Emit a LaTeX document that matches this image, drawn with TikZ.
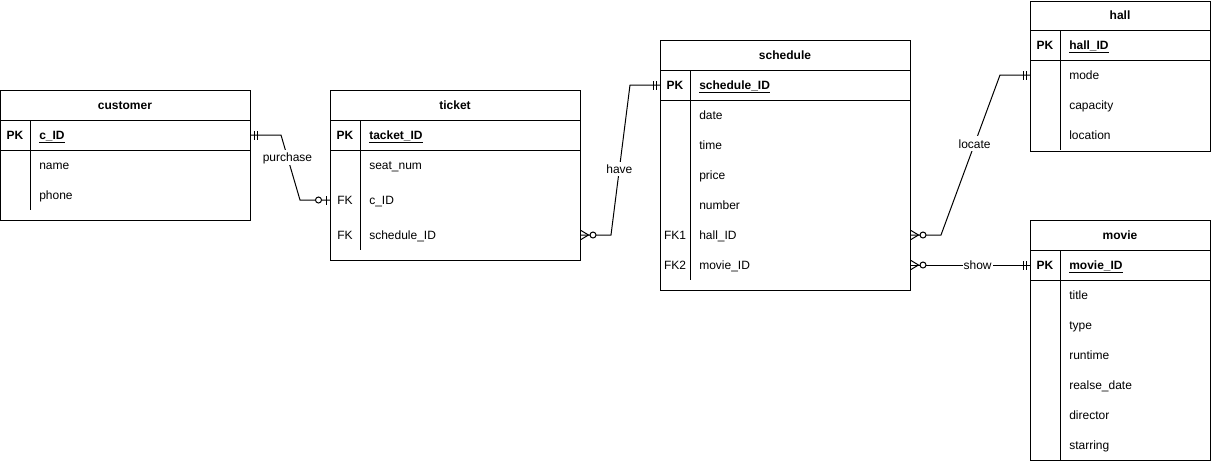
\documentclass[tikz,border=0pt]{standalone}
\usepackage{fontspec}
\setmainfont{Liberation Sans}
\usetikzlibrary{calc}

\tikzset{
  tbl/.style={draw, anchor=north west, inner sep=0pt, line width=0.75pt},
  txt/.style={inner sep=0.75pt, text height=8pt, text depth=1.6pt},
  ttl/.style={txt, font=\fontsize{9}{11}\selectfont\bfseries},
  key/.style={txt},
  fld/.style={txt, anchor=west},
  bld/.style={font=\fontsize{9}{11}\selectfont\bfseries},
  rel/.style={line width=0.75pt},
  lbl/.style={txt, fill=white},
  mand one/.pic={\draw[rel] (3.5,-4.5) -- (3.5,4.5) (6.5,-4.5) -- (6.5,4.5);},
  zero one/.pic={\draw[rel] (4,-4.5) -- (4,4.5);
    \draw[rel, fill=white] (11.5,0) circle[radius=3];},
  zero many/.pic={\draw[rel] (0,-4.5) -- (7.5,0) -- (0,4.5);
    \draw[rel, fill=white] (12,0) circle[radius=3];}
}

\begin{document}
\begin{tikzpicture}[x=0.75pt,y=0.75pt,yscale=-1,xscale=1,
  every node/.append style={font=\fontsize{9}{11}\selectfont}]
\useasboundingbox (0,0) rectangle (1211,462);

%Table: customer
    \node [tbl, minimum width=187.5pt, minimum height=97.5pt] (customer) at (0,90) {};
    \draw [rel] (0,120) -- (250,120) ;
    \draw [rel] (0,150) -- (250,150) ;
    \draw [rel] (30,120) -- (30,210) ;
    \node [ttl] (customer-title) at (125,105) {customer};
    \node [key, bld] (customer-pk) at (15,135) {PK};
    \node [fld, bld] (customer-id) at (38,135) {\underline{c\_ID}};
    \node [fld] (customer-name) at (38,165) {name};
    \node [fld] (customer-phone) at (38,195) {phone};

%Table: ticket
    \node [tbl, minimum width=187.5pt, minimum height=127.5pt] (ticket) at (330,90) {};
    \draw [rel] (330,120) -- (580,120) ;
    \draw [rel] (330,150) -- (580,150) ;
    \draw [rel] (360,120) -- (360,250) ;
    \node [ttl] (ticket-title) at (455,105) {ticket};
    \node [key, bld] (ticket-pk) at (345,135) {PK};
    \node [fld, bld] (ticket-id) at (368,135) {\underline{tacket\_ID}};
    \node [fld] (ticket-seat) at (368,165) {seat\_num};
    \node [key] (ticket-fk1) at (345,200) {FK};
    \node [fld] (ticket-cid) at (368,200) {c\_ID};
    \node [key] (ticket-fk2) at (345,235) {FK};
    \node [fld] (ticket-sid) at (368,235) {schedule\_ID};

%Table: schedule
    \node [tbl, minimum width=187.5pt, minimum height=187.5pt] (schedule) at (660,40) {};
    \draw [rel] (660,70) -- (910,70) ;
    \draw [rel] (660,100) -- (910,100) ;
    \draw [rel] (690,70) -- (690,280) ;
    \node [ttl] (schedule-title) at (785,55) {schedule};
    \node [key, bld] (schedule-pk) at (675,85) {PK};
    \node [fld, bld] (schedule-id) at (698,85) {\underline{schedule\_ID}};
    \node [fld] (schedule-date) at (698,115) {date};
    \node [fld] (schedule-time) at (698,145) {time};
    \node [fld] (schedule-price) at (698,175) {price};
    \node [fld] (schedule-number) at (698,205) {number};
    \node [key] (schedule-fk1) at (675,235) {FK1};
    \node [fld] (schedule-hid) at (698,235) {hall\_ID};
    \node [key] (schedule-fk2) at (675,265) {FK2};
    \node [fld] (schedule-mid) at (698,265) {movie\_ID};

%Table: hall
    \node [tbl, minimum width=135pt, minimum height=112.5pt] (hall) at (1030,0.5) {};
    \draw [rel] (1030,30) -- (1210,30) ;
    \draw [rel] (1030,60) -- (1210,60) ;
    \draw [rel] (1060,30) -- (1060,150) ;
    \node [ttl] (hall-title) at (1120,15) {hall};
    \node [key, bld] (hall-pk) at (1045,45) {PK};
    \node [fld, bld] (hall-id) at (1068,45) {\underline{hall\_ID}};
    \node [fld] (hall-mode) at (1068,75) {mode};
    \node [fld] (hall-capacity) at (1068,105) {capacity};
    \node [fld] (hall-location) at (1068,135) {location};

%Table: movie
    \node [tbl, minimum width=135pt, minimum height=180pt] (movie) at (1030,220) {};
    \draw [rel] (1030,250) -- (1210,250) ;
    \draw [rel] (1030,280) -- (1210,280) ;
    \draw [rel] (1060,250) -- (1060,460) ;
    \node [ttl] (movie-title) at (1120,235) {movie};
    \node [key, bld] (movie-pk) at (1045,265) {PK};
    \node [fld, bld] (movie-id) at (1068,265) {\underline{movie\_ID}};
    \node [fld] (movie-title2) at (1068,295) {title};
    \node [fld] (movie-type) at (1068,325) {type};
    \node [fld] (movie-runtime) at (1068,355) {runtime};
    \node [fld] (movie-date) at (1068,385) {realse\_date};
    \node [fld] (movie-director) at (1068,415) {director};
    \node [fld] (movie-starring) at (1068,445) {starring};

%Relation: purchase
    \draw [rel] (customer-id -| customer.east) -- ++(30,0)
      -- node [lbl, pos=0.34] (purchase) {purchase} ($(ticket-cid -| ticket.west)+(-30,0)$)
      -- (ticket-cid -| ticket.west) ;
    \pic at (customer-id -| customer.east) {mand one};
    \pic [xscale=-1] at (ticket-cid -| ticket.west) {zero one};
%Relation: have
    \draw [rel] (ticket-sid -| ticket.east) -- ++(30,0)
      -- node [lbl, pos=0.44] (have) {have} ($(schedule-id -| schedule.west)+(-30,0)$)
      -- (schedule-id -| schedule.west) ;
    \pic at (ticket-sid -| ticket.east) {zero many};
    \pic [xscale=-1] at (schedule-id -| schedule.west) {mand one};
%Relation: locate
    \draw [rel] (schedule-hid -| schedule.east) -- ++(30,0)
      -- node [lbl, pos=0.57] (locate) {locate} ($(hall-mode -| hall.west)+(-30,0)$)
      -- (hall-mode -| hall.west) ;
    \pic at (schedule-hid -| schedule.east) {zero many};
    \pic [xscale=-1] at (hall-mode -| hall.west) {mand one};
%Relation: show
    \draw [rel] (schedule-mid -| schedule.east)
      -- node [lbl, pos=0.56] (show) {show} (movie-id -| movie.west) ;
    \pic at (schedule-mid -| schedule.east) {zero many};
    \pic [xscale=-1] at (movie-id -| movie.west) {mand one};

\end{tikzpicture}
\end{document}
